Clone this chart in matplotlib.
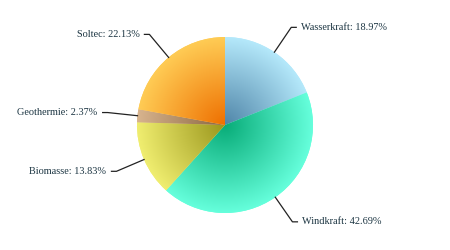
import numpy as np
import matplotlib.pyplot as plt
from matplotlib.colors import to_rgb

# Data
labels = ["Wasserkraft", "Windkraft", "Biomasse", "Geothermie", "Soltec"]
shares = [18.97, 42.69, 13.83, 2.37, 22.13]
edge_colors = ["#b5e9fb", "#66ffdc", "#f0ee70", "#d8b48e", "#ffcc55"]
center_colors = ["#4f85a8", "#08ac78", "#9a961c", "#8a6640", "#ee6f00"]

fig = plt.figure(figsize=(4.5, 2.5), dpi=100)
ax = fig.add_axes([0, 0, 1, 1])

cx, cy, R = 225, 125, 88
wedges, _ = ax.pie(shares, startangle=90, counterclock=False, center=(cx, cy),
                   radius=R, colors=edge_colors, wedgeprops=dict(linewidth=0))

# radial gradient, dark in the middle, light at the rim
yy, xx = np.mgrid[0:250, 0:450] + 0.5
t = np.clip(np.hypot(xx - cx, yy - cy) / R, 0, 1)[..., None]
for w, c0, c1 in zip(wedges, center_colors, edge_colors):
    img = np.array(to_rgb(c0)) * (1 - t) + np.array(to_rgb(c1)) * t
    im = ax.imshow(img, extent=(0, 450, 0, 250), origin="lower", zorder=2,
                   interpolation="bilinear")
    im.set_clip_path(w)

# connector lines and labels
for w, lab, val in zip(wedges, labels, shares):
    ang = np.deg2rad((w.theta1 + w.theta2) / 2)
    x0, y0 = cx + R * np.cos(ang), cy + R * np.sin(ang)
    x1, y1 = cx + 118 * np.cos(ang), cy + 118 * np.sin(ang)
    side = 1 if np.cos(ang) >= 0 else -1
    x2 = x1 + 5 * side
    ax.plot([x0, x1, x2], [y0, y1, y1], color="#222222", lw=0.9, zorder=3)
    ax.text(x2 + 5 * side, y1, f"{lab}: {val:.2f}%", ha="left" if side > 0 else "right",
            va="center", fontsize=7.4, family="Liberation Serif", color="#1c3542")

ax.set_xlim(0, 450)
ax.set_ylim(0, 250)
ax.set_aspect("equal")
ax.axis("off")

plt.savefig("out.png", dpi=100)
